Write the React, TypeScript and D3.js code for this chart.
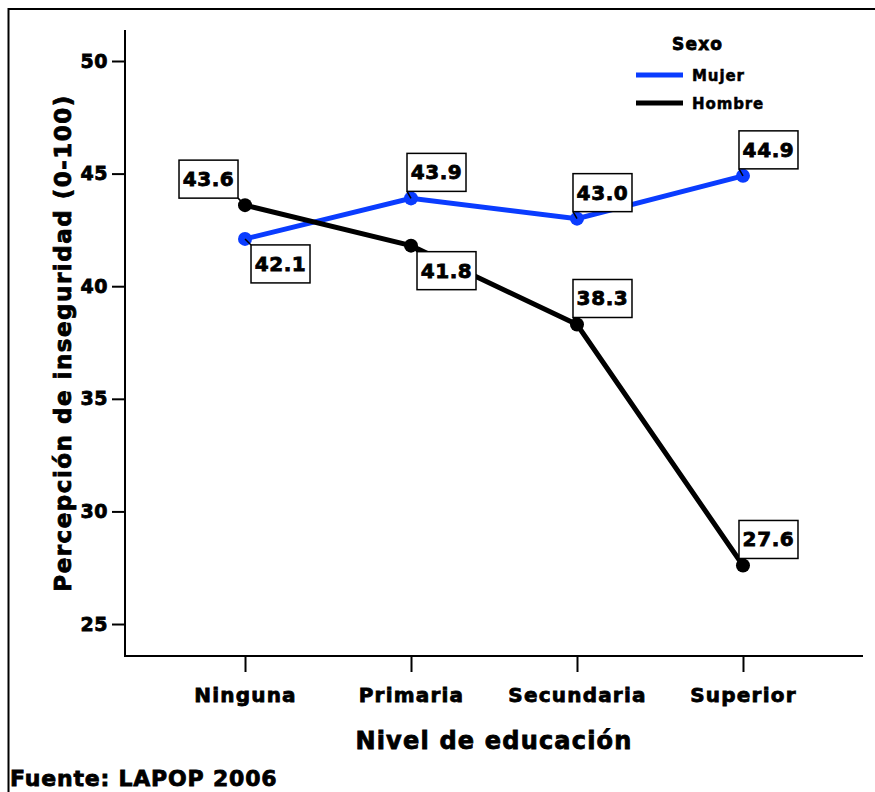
import { useEffect, useRef } from "react";
import * as d3 from "d3";

const categories = ["Ninguna", "Primaria", "Secundaria", "Superior"];
const mujer = [42.1, 43.9, 43.0, 44.9];
const hombre = [43.6, 41.8, 38.3, 27.6];
const yTicks = [25, 30, 35, 40, 45, 50];
const seriesNames = ["Mujer", "Hombre"];
const seriesColors = ["#0a3cff", "#000000"];
// where each value box sits relative to its point
const mujerLabelPos = ["dr", "ur", "ur", "ur"];
const hombreLabelPos = ["ul", "dr", "ur", "ur"];

const FONT = "'DejaVu Sans', Arial, sans-serif";

// heavy bold text, close to the black sans of the source
function heavy(sel, size, spacing) {
    return sel
        .style("font-family", FONT)
        .style("font-weight", "bold")
        .style("font-size", size + "px")
        .style("letter-spacing", spacing + "px")
        .attr("fill", "#000")
        .attr("stroke", "#000")
        .attr("stroke-width", 0.8);
}

export default function App() {
    const svgRef = useRef(null);

    useEffect(() => {
        const width = 875, height = 792;
        const margin = { top: 30, right: 12, bottom: 136, left: 125 };

        const svg = d3.select(svgRef.current)
            .attr("width", width)
            .attr("height", height);
        svg.selectAll("*").remove();

        // outer frame (clipped on right/bottom like the source)
        svg.append("line").attr("x1", 8.5).attr("x2", 8.5).attr("y1", 8).attr("y2", height)
            .attr("stroke", "#000").attr("stroke-width", 2);
        svg.append("line").attr("x1", 8).attr("x2", width).attr("y1", 9).attr("y2", 9)
            .attr("stroke", "#000").attr("stroke-width", 2);

        const x0 = margin.left, x1 = width - margin.right;
        const y0 = height - margin.bottom;

        const xScale = d3.scalePoint()
            .domain(categories)
            .range([x0, x1])
            .padding(0.723);

        const yScale = d3.scaleLinear()
            .domain([23.58, 50])
            .range([y0, 61]);
        const axisTop = margin.top;

        // axes
        const yAxis = svg.append("g")
            .attr("transform", `translate(${x0},0)`)
            .call(d3.axisLeft(yScale).tickValues(yTicks).tickSize(13).tickPadding(4).tickSizeOuter(0));
        yAxis.select(".domain").remove();
        yAxis.selectAll("line").attr("stroke-width", 2);
        heavy(yAxis.selectAll("text"), 19, 0.5);
        svg.append("line").attr("x1", x0).attr("x2", x0).attr("y1", axisTop).attr("y2", y0 + 1)
            .attr("stroke", "#000").attr("stroke-width", 2);

        const xAxis = svg.append("g")
            .attr("transform", `translate(0,${y0})`)
            .call(d3.axisBottom(xScale).tickSize(16).tickPadding(16).tickSizeOuter(0));
        xAxis.select(".domain").remove();
        xAxis.selectAll("line").attr("stroke-width", 2);
        heavy(xAxis.selectAll("text"), 20, 1.2);
        svg.append("line").attr("x1", x0 - 1).attr("x2", x1).attr("y1", y0).attr("y2", y0)
            .attr("stroke", "#000").attr("stroke-width", 2);

        // axis titles
        heavy(svg.append("text")
            .attr("x", (x0 + x1) / 2).attr("y", 749)
            .attr("text-anchor", "middle"), 24, 1.2)
            .text("Nivel de educación");

        heavy(svg.append("text")
            .attr("transform", `translate(71,${(axisTop + y0) / 2}) rotate(-90)`)
            .attr("text-anchor", "middle"), 23, 1.5)
            .text("Percepción de inseguridad (0-100)");

        heavy(svg.append("text")
            .attr("x", 10).attr("y", 786), 22, 0.8)
            .text("Fuente: LAPOP 2006");

        // series
        const series = [
            { name: seriesNames[0], values: mujer, color: seriesColors[0], pos: mujerLabelPos },
            { name: seriesNames[1], values: hombre, color: seriesColors[1], pos: hombreLabelPos },
        ];

        const line = d3.line<number>()
            .x((d, i) => xScale(categories[i]))
            .y(d => yScale(d));

        series.forEach(s => {
            svg.append("path")
                .datum(s.values)
                .attr("d", line)
                .attr("fill", "none")
                .attr("stroke", s.color)
                .attr("stroke-width", 5);
            svg.append("g").selectAll("circle")
                .data(s.values)
                .join("circle")
                .attr("cx", (d, i) => xScale(categories[i]))
                .attr("cy", d => yScale(d))
                .attr("r", 7)
                .attr("fill", s.color);
        });

        // value boxes
        const boxW = 59, boxH = 38;
        series.forEach(s => {
            s.values.forEach((v, i) => {
                const px = xScale(categories[i]), py = yScale(v);
                let bx, by, cx, cy;
                if (s.pos[i] === "ul") { bx = px - 7 - boxW; by = py - 7 - boxH; cx = bx + boxW; cy = by + boxH; }
                else if (s.pos[i] === "dr") { bx = px + 6; by = py + 6; cx = bx; cy = by; }
                else { bx = px - 4; by = py - 7 - boxH; cx = bx; cy = by + boxH; }
                svg.append("line").attr("x1", px).attr("y1", py).attr("x2", cx).attr("y2", cy)
                    .attr("stroke", "#000").attr("stroke-width", 1.5);
                svg.append("rect")
                    .attr("x", bx).attr("y", by).attr("width", boxW).attr("height", boxH)
                    .attr("fill", "#fff").attr("stroke", "#000").attr("stroke-width", 1.5);
                heavy(svg.append("text")
                    .attr("x", bx + boxW / 2).attr("y", by + boxH / 2 + 7)
                    .attr("text-anchor", "middle"), 20, 0.6)
                    .text(v.toFixed(1));
            });
        });

        // legend
        heavy(svg.append("text")
            .attr("x", 672).attr("y", 50), 17, 1.2)
            .text("Sexo");
        series.forEach((s, i) => {
            const ly = 75 + i * 28;
            svg.append("line").attr("x1", 636).attr("x2", 683).attr("y1", ly).attr("y2", ly)
                .attr("stroke", s.color).attr("stroke-width", 5);
            heavy(svg.append("text")
                .attr("x", 692).attr("y", ly + 6), 15, 0.9)
                .attr("stroke-width", 0.5)
                .text(s.name);
        });
    }, []);

    return <svg ref={svgRef} style={{ position: "absolute", left: 0, top: 0 }} />;
}
